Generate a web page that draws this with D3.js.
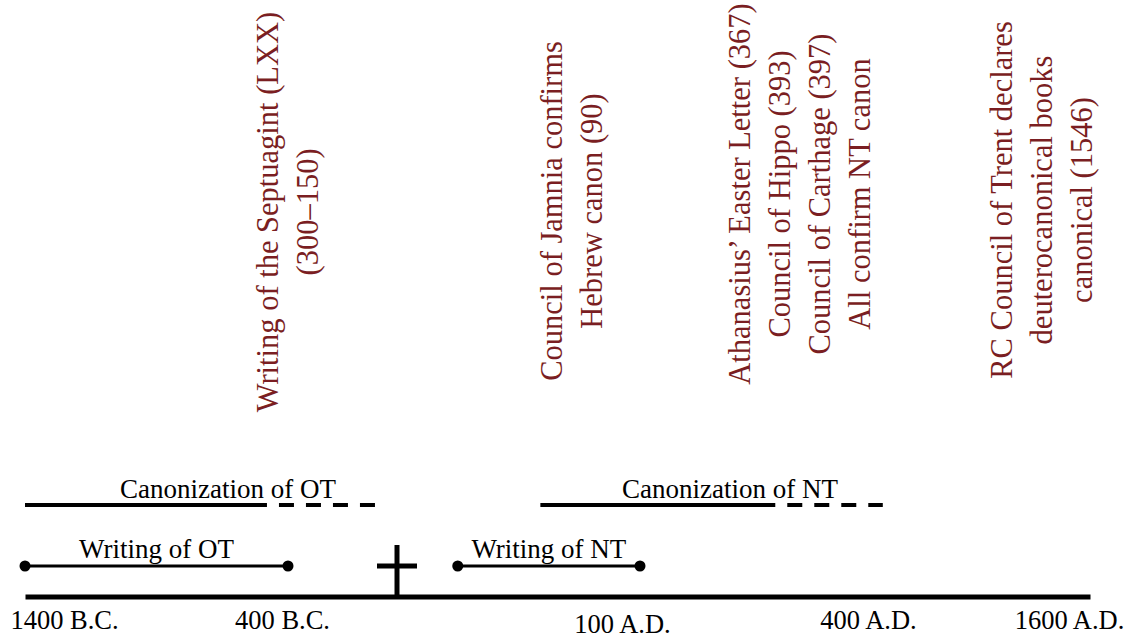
<!DOCTYPE html>
<html lang="en">
<head>
<meta charset="utf-8">
<title>Timeline: formation of the canon</title>
<script src="https://cdn.jsdelivr.net/npm/d3@7"></script>
<style>
  body, html { margin: 0; background: #fff; }
  .lbl { font-family: 'Liberation Serif', 'Times New Roman', serif; font-size: 27px; fill: #000; text-anchor: middle; }
  .tick text { font-family: 'Liberation Serif', 'Times New Roman', serif; font-size: 26.5px; fill: #000; }
  .note { font-family: 'Liberation Serif', 'Times New Roman', serif; font-size: 30.5px; fill: #7a1e22; text-anchor: middle; }
</style>
</head>
<body>
<script>
// years, negative = B.C.
var tickYears = [-1400, -400, 100, 400, 1600];
var tickLabels = ["1400 B.C.", "400 B.C.", "100 A.D.", "400 A.D.", "1600 A.D."];
var crossYear = 0;

var writingNames = ["Writing of OT", "Writing of NT"];
var writingStart = [-1400, 25];
var writingEnd = [-400, 100];

var canonNames = ["Canonization of OT", "Canonization of NT"];
var canonStart = [-1400, 59];
var canonFirm = [-480, 278];   // solid part ends
var canonEnd = [-80, 480];     // dashed part ends

var noteLines = [
  ["Writing of the Septuagint (LXX)", "(300\u2013150)"],
  ["Council of Jamnia confirms", "Hebrew canon (90)"],
  ["Athanasius\u2019 Easter Letter (367)", "Council of Hippo (393)", "Council of Carthage (397)", "All confirm NT canon"],
  ["RC Council of Trent declares", "deuterocanonical books", "canonical (1546)"]
];

var w = 1133, h = 638;
var axisY = 596.5;

// the timeline is not to scale, so the scale is piecewise
var x = d3.scaleLinear()
  .domain([-1400, -400, 0, 100, 400, 1600])
  .range([25, 288, 397, 640, 868, 1090]);

var svg = d3.select("body").append("svg")
  .attr("width", w)
  .attr("height", h);

// main axis
var axis = d3.axisBottom(x)
  .tickValues(tickYears)
  .tickFormat(function(d, i) { return tickLabels[i]; })
  .tickSize(0)
  .tickSizeOuter(0);

var gAxis = svg.append("g")
  .attr("transform", "translate(0," + axisY + ")")
  .call(axis);
gAxis.select(".domain").attr("stroke", "#000").attr("stroke-width", 5);
// labels were placed by hand on the slide
var labelDx = [39, -6, -18, 0, -21];
var labelDy = [0, 0, 4, 0, 0];
gAxis.selectAll(".tick text")
  .attr("x", function(d, i) { return labelDx[i]; })
  .attr("y", function(d, i) { return 32.5 + labelDy[i]; })
  .attr("dy", 0);

// cross at the turn of the era
svg.append("line")
  .attr("x1", x(crossYear)).attr("x2", x(crossYear))
  .attr("y1", 545).attr("y2", axisY)
  .attr("stroke", "#000").attr("stroke-width", 5);
svg.append("line")
  .attr("x1", x(crossYear) - 20).attr("x2", x(crossYear) + 20)
  .attr("y1", 566).attr("y2", 566)
  .attr("stroke", "#000").attr("stroke-width", 5);

// writing periods
var writeY = 566;
svg.selectAll(".wline")
  .data(writingNames)
  .enter()
  .append("line")
  .attr("class", "wline")
  .attr("x1", function(d, i) { return x(writingStart[i]); })
  .attr("x2", function(d, i) { return x(writingEnd[i]); })
  .attr("y1", writeY).attr("y2", writeY)
  .attr("stroke", "#000").attr("stroke-width", 3);

var dots = [];
writingNames.forEach(function(d, i) { dots.push(writingStart[i], writingEnd[i]); });
svg.selectAll(".dot")
  .data(dots)
  .enter()
  .append("circle")
  .attr("class", "dot")
  .attr("cx", function(d) { return x(d); })
  .attr("cy", writeY)
  .attr("r", 5.5)
  .attr("fill", "#000");

svg.selectAll(".wlbl")
  .data(writingNames)
  .enter()
  .append("text")
  .attr("class", "lbl wlbl")
  .attr("x", function(d, i) { return (x(writingStart[i]) + x(writingEnd[i])) / 2; })
  .attr("y", 558)
  .text(function(d) { return d; });

// canonization periods: solid then dashed
var canonY = 505;
svg.selectAll(".csolid")
  .data(canonNames)
  .enter()
  .append("line")
  .attr("class", "csolid")
  .attr("x1", function(d, i) { return x(canonStart[i]); })
  .attr("x2", function(d, i) { return x(canonFirm[i]); })
  .attr("y1", canonY).attr("y2", canonY)
  .attr("stroke", "#000").attr("stroke-width", 4);

// dash pattern starts with a gap
svg.selectAll(".cdash")
  .data(canonNames)
  .enter()
  .append("line")
  .attr("class", "cdash")
  .attr("x1", function(d, i) { return x(canonFirm[i]); })
  .attr("x2", function(d, i) { return x(canonEnd[i]); })
  .attr("y1", canonY).attr("y2", canonY)
  .attr("stroke", "#000").attr("stroke-width", 4)
  .attr("stroke-dasharray", "15,12")
  .attr("stroke-dashoffset", 15);

var canonDx = [28, 18.5];
svg.selectAll(".clbl")
  .data(canonNames)
  .enter()
  .append("text")
  .attr("class", "lbl clbl")
  .attr("x", function(d, i) { return (x(canonStart[i]) + x(canonEnd[i])) / 2 + canonDx[i]; })
  .attr("y", 498)
  .text(function(d) { return d; });

// rotated notes: first baseline x, centre y
var notePos = [[278, 212], [562, 211], [750, 194], [1012, 200]];
var lineGap = 40;

var notes = svg.selectAll(".noteg")
  .data(noteLines)
  .enter()
  .append("g")
  .attr("class", "noteg");

notes.each(function(lines, n) {
  d3.select(this).selectAll("text")
    .data(lines)
    .enter()
    .append("text")
    .attr("class", "note")
    .attr("transform", function(d, i) {
      return "translate(" + (notePos[n][0] + i * lineGap) + "," + notePos[n][1] + ") rotate(-90)";
    })
    .text(function(d) { return d; });
});
</script>
</body>
</html>
